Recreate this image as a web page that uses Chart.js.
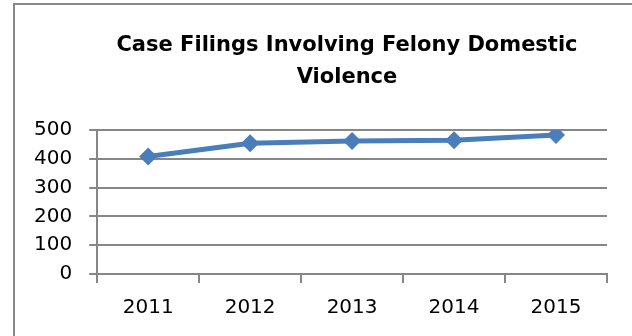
<!DOCTYPE html>
<html>
<head>
<meta charset="utf-8">
<script src="https://cdn.jsdelivr.net/npm/chart.js@4"></script>
<style>
  html, body { margin: 0; padding: 0; background: #fff; overflow: hidden; }
  #wrap { position: relative; width: 632px; height: 336px; }
  #frame { position: absolute; left: 13px; top: 3px; width: 700px; height: 400px;
           border-left: 2px solid #888; border-top: 2px solid #888; pointer-events: none; }
  canvas { position: absolute; left: 0; top: 0; }
</style>
</head>
<body>
<div id="wrap">
  <canvas id="c" width="632" height="336"></canvas>
  <div id="frame"></div>
</div>
<script>
const titleLines = ['Case Filings Involving Felony Domestic', 'Violence'];
const years = ['2011', '2012', '2013', '2014', '2015'];
const filings = [408, 454, 462, 464, 483];
const yTicks = [0, 100, 200, 300, 400, 500];

const gridColor = '#878787';
const lineColor = '#4a7ebb';

const shiftTitle = {
  id: 'shiftTitle',
  afterLayout(chart) {
    const t = chart.titleBlock;
    if (t) { t.left += 35; t.right += 35; }
  }
};

new Chart(document.getElementById('c'), {
  type: 'line',
  data: {
    labels: years,
    datasets: [{
      label: 'Case Filings',
      data: filings,
      borderColor: lineColor,
      backgroundColor: lineColor,
      borderWidth: 5,
      pointStyle: 'rectRot',
      pointRadius: 9,
      pointHoverRadius: 9,
      pointBorderWidth: 0,
      tension: 0
    }]
  },
  plugins: [shiftTitle],
  options: {
    responsive: false,
    animation: false,
    events: [],
    layout: { padding: { left: 17, right: 25, top: 0, bottom: 3 } },
    plugins: {
      legend: { display: false },
      tooltip: { enabled: false },
      title: {
        display: true,
        text: titleLines,
        color: '#000',
        font: { family: 'DejaVu Sans', size: 21, weight: 'bold', lineHeight: 1.5 },
        padding: { top: 30, bottom: 37 }
      }
    },
    scales: {
      x: {
        offset: true,
        grid: { display: true, offset: true, drawOnChartArea: false, drawTicks: true, tickLength: 9, color: gridColor, lineWidth: 2 },
        border: { display: true, color: gridColor, width: 2 },
        ticks: { color: '#000', padding: 13, font: { family: 'DejaVu Sans', size: 20 } }
      },
      y: {
        min: 0,
        max: 500,
        afterBuildTicks: (axis) => { axis.ticks = yTicks.map(v => ({ value: v })); },
        grid: { color: gridColor, lineWidth: 2, tickLength: 8, drawTicks: true },
        border: { display: true, color: gridColor, width: 2 },
        ticks: { color: '#000', padding: 17, font: { family: 'DejaVu Sans', size: 20 } }
      }
    }
  }
});
</script>
</body>
</html>
